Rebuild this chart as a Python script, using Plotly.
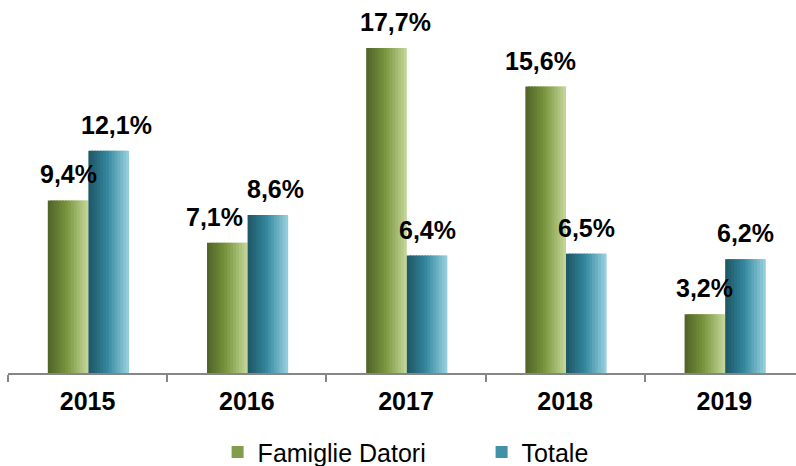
import plotly.graph_objects as go

years = ["2015", "2016", "2017", "2018", "2019"]
famiglie = [9.4, 7.1, 17.7, 15.6, 3.2]
totale = [12.1, 8.6, 6.4, 6.5, 6.2]
series_names = ["Famiglie Datori", "Totale"]

# style
FONT = "Liberation Sans, Arial, sans-serif"
green_stops = [(0.0, (0x4f, 0x62, 0x28)), (0.45, (0x77, 0x93, 0x3c)), (1.0, (0xc6, 0xd9, 0x9c))]
blue_stops = [(0.0, (0x1f, 0x55, 0x64)), (0.45, (0x31, 0x85, 0x9c)), (1.0, (0x9a, 0xd2, 0xe0))]
BAR_W = 0.255
N_SLICES = 14
# horizontal nudges (px) of the data labels, as placed in the original
label_dx_fam = [0, -13, 9, -5, 0]
label_dx_tot = [8, 8, 0, 0, 0]


def interp(stops, t):
    for (t0, c0), (t1, c1) in zip(stops[:-1], stops[1:]):
        if t <= t1:
            f = (t - t0) / (t1 - t0) if t1 > t0 else 0
            return "rgb(%d,%d,%d)" % tuple(round(a + (b - a) * f) for a, b in zip(c0, c1))
    return "rgb(%d,%d,%d)" % stops[-1][1]


fig = go.Figure()


def add_series(values, name, stops, left_off):
    sw = BAR_W / N_SLICES
    for i in range(N_SLICES):
        t = (i + 0.5) / N_SLICES
        w = sw * 1.6 if i < N_SLICES - 1 else sw
        fig.add_trace(go.Bar(
            x=years, y=values, width=w, offset=left_off + i * sw,
            marker=dict(color=interp(stops, t), line=dict(width=0)),
            name=name, showlegend=(i == N_SLICES // 2), legendgroup=name,
            hoverinfo="skip",
        ))


add_series(famiglie, series_names[0], green_stops, -BAR_W + 0.005)
add_series(totale, series_names[1], blue_stops, 0.005)


def fmt(v):
    return f"{v:.1f}%".replace(".", ",")


for vals, off, dxs in ((famiglie, -BAR_W / 2 + 0.005, label_dx_fam),
                       (totale, BAR_W / 2 + 0.005, label_dx_tot)):
    for i, (v, dx) in enumerate(zip(vals, dxs)):
        fig.add_annotation(
            x=i + off, y=v, xref="x", yref="y", text=fmt(v), showarrow=False,
            yanchor="bottom", yshift=10, xshift=dx,
            font=dict(family=FONT, size=25, color="#000000", weight="bold"),
        )

fig.update_layout(
    width=796, height=466,
    margin=dict(l=8, r=0, t=10, b=93, autoexpand=False),
    paper_bgcolor="white", plot_bgcolor="white",
    barmode="overlay",
    showlegend=True,
    legend=dict(
        orientation="h", x=0.266, xanchor="left", y=-0.218, yanchor="middle",
        font=dict(family=FONT, size=25, color="#000000"),
        entrywidth=219, itemsizing="constant", traceorder="normal",
    ),
    xaxis=dict(
        type="category", range=[-0.5, 4.45], automargin=False,
        showline=True, linecolor="#868686", linewidth=2,
        ticks="outside", tickson="boundaries", ticklen=7, tickwidth=2, tickcolor="#868686",
        tickfont=dict(family=FONT, size=25, color="#000000", weight="bold"),
        ticklabelstandoff=5,
        showgrid=False, zeroline=False,
    ),
    yaxis=dict(visible=False, range=[0, 363 / 18.36], showgrid=False, zeroline=False,
               automargin=False),
)

fig.write_html("out.html", config={"displayModeBar": False},
               post_script="document.body.style.margin='0';")
